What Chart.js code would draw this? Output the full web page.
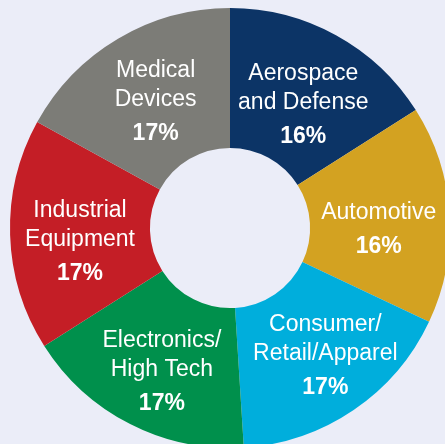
<!DOCTYPE html>
<html>
<head>
<meta charset="utf-8">
<script src="https://cdn.jsdelivr.net/npm/chart.js@4/dist/chart.umd.min.js"></script>
<style>
  html, body { margin: 0; padding: 0; overflow: hidden; background: #ebedf8; }
  canvas { display: block; }
</style>
</head>
<body>
<canvas id="c" width="460" height="456"></canvas>
<script>
const categories = ['Aerospace and Defense', 'Automotive', 'Consumer/Retail/Apparel', 'Electronics/High Tech', 'Industrial Equipment', 'Medical Devices'];
const labelLines = [['Aerospace', 'and Defense'], ['Automotive'], ['Consumer/', 'Retail/Apparel'], ['Electronics/', 'High Tech'], ['Industrial', 'Equipment'], ['Medical', 'Devices']];
const shares = [16, 16, 17, 17, 17, 17];
const colors = ['#0c3466', '#d3a221', '#00aedc', '#00904c', '#c41e26', '#7c7c77'];

// small nudges so the text blocks sit where the original has them
const nudge = [[1, 9], [-1, 11], [11, 4], [0, 10], [0, 9], [2, 3]];

const segmentLabels = {
  id: 'segmentLabels',
  afterDatasetsDraw(chart) {
    const ctx = chart.ctx;
    const arcs = chart.getDatasetMeta(0).data;
    ctx.save();
    ctx.fillStyle = '#ffffff';
    ctx.textAlign = 'center';
    ctx.textBaseline = 'middle';
    arcs.forEach((arc, i) => {
      const p = arc.tooltipPosition();
      const lines = labelLines[i];
      const lineH = 29;
      const pctGap = 34;
      const blockH = (lines.length - 1) * lineH + pctGap;
      let y = p.y + nudge[i][1] - blockH / 2;
      const x = p.x + nudge[i][0];
      ctx.font = '23px "Liberation Sans", Arial, sans-serif';
      lines.forEach((t, k) => {
        ctx.fillText(t, x, y + k * lineH);
      });
      ctx.font = 'bold 23px "Liberation Sans", Arial, sans-serif';
      ctx.fillText(shares[i] + '%', x, y + (lines.length - 1) * lineH + pctGap);
    });
    ctx.restore();
  }
};

new Chart(document.getElementById('c'), {
  type: 'doughnut',
  data: {
    labels: categories,
    datasets: [{
      data: shares,
      backgroundColor: colors,
      borderWidth: 0,
    }],
  },
  options: {
    responsive: false,
    animation: false,
    cutout: '36.4%',
    layout: { padding: 8 },
    plugins: {
      legend: { display: false },
      tooltip: { enabled: false },
    },
  },
  plugins: [segmentLabels],
});
</script>
</body>
</html>
